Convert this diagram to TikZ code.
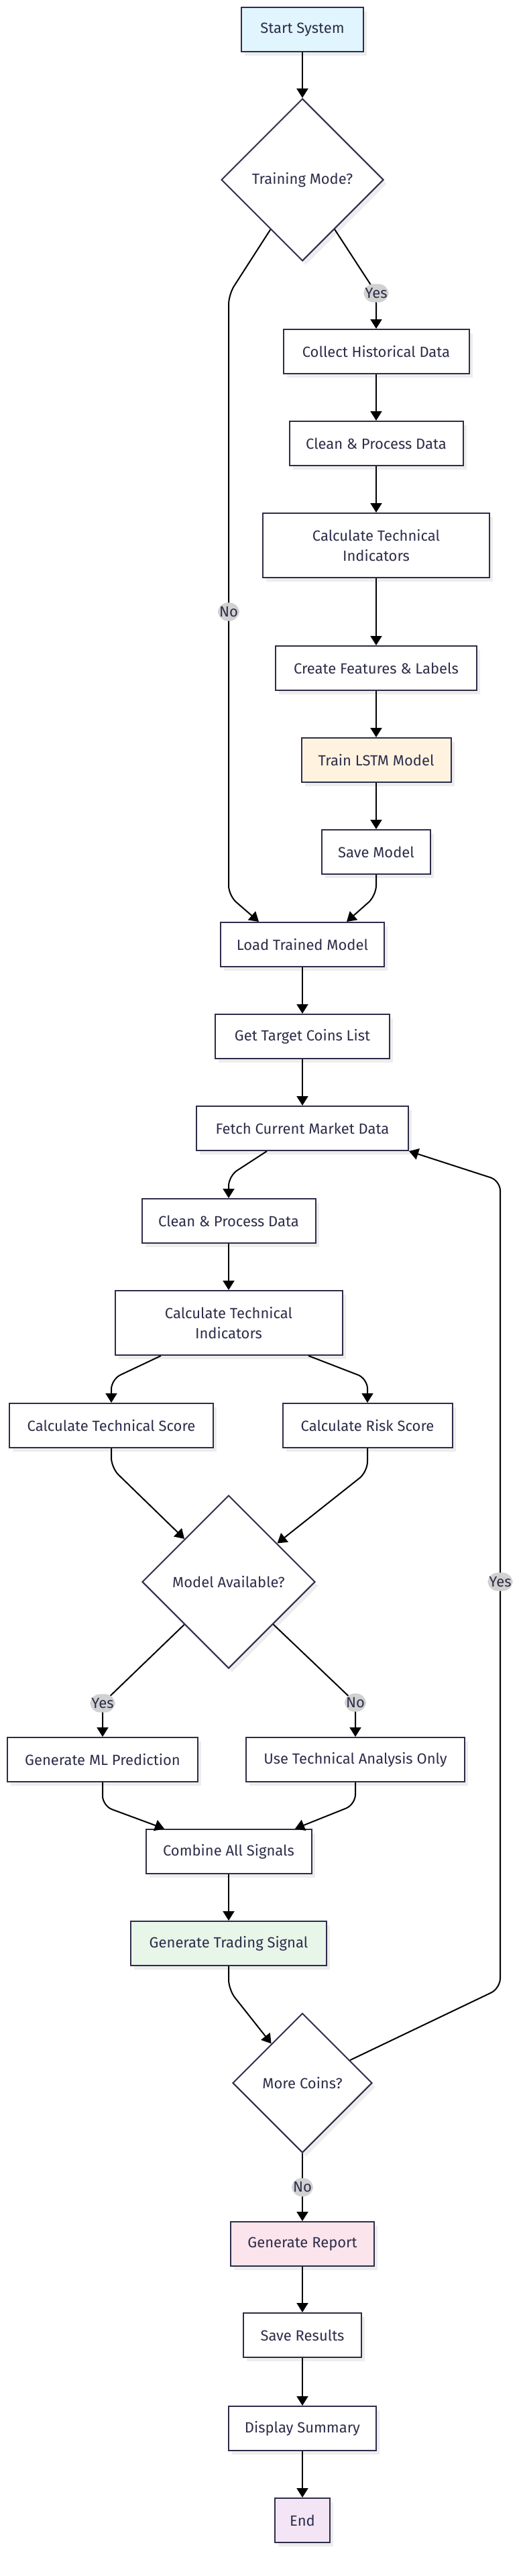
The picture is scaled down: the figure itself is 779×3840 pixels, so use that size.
\documentclass[tikz,border=0pt]{standalone}
\usepackage{fontspec}
\setmainfont{Fira Sans}
\usetikzlibrary{shapes.geometric,arrows.meta,shadows}

\definecolor{ink}{HTML}{2D2D4A}
\definecolor{startfill}{HTML}{E1F5FE}
\definecolor{trainfill}{HTML}{FFF3E0}
\definecolor{signalfill}{HTML}{E8F5E9}
\definecolor{reportfill}{HTML}{FCE4EC}
\definecolor{endfill}{HTML}{F3E5F5}

\begin{document}
\begin{tikzpicture}[x=1pt,y=-1pt,
  base/.style={draw=ink,line width=2pt,fill=white,text=ink,inner sep=0pt,
    font=\fontsize{22}{30}\selectfont,
    drop shadow={shadow xshift=5pt,shadow yshift=-6pt,fill=black!7,opacity=1}},
  proc/.style={base,rectangle,minimum height=66pt,align=center},
  proc2/.style={base,rectangle,minimum height=96pt,align=center},
  decide/.style={base,diamond,aspect=1},
  flow/.style={draw=black,line width=2pt,-{Triangle[width=17pt,length=14pt]},rounded corners=15pt},
  lbl/.style={rectangle,fill=black!18,text=ink,inner xsep=2pt,inner ysep=6pt,font=\fontsize{22}{24}\selectfont}]

\fill[white] (0,0) rectangle (779,3840);

% training branch
\node[proc,fill=startfill,minimum width=182pt] (start) at (451,44) {Start System};
\node[decide,minimum size=242pt] (mode1) at (451,268) {Training Mode?};
\node[proc,minimum width=277pt] (collect) at (561,524) {Collect Historical Data};
\node[proc,minimum width=259pt] (clean1) at (561,661) {Clean \& Process Data};
\node[proc2,minimum width=338pt] (calc1) at (561,813) {Calculate Technical\\Indicators};
\node[proc,minimum width=300pt] (feat) at (561,996) {Create Features \& Labels};
\node[proc,fill=trainfill,minimum width=223pt] (train) at (561,1133) {Train LSTM Model};
\node[proc,minimum width=162pt] (savem) at (561,1270) {Save Model};
\node[proc,minimum width=244pt] (load) at (451,1408) {Load Trained Model};

% analysis loop
\node[proc,minimum width=260pt] (coins) at (451,1545) {Get Target Coins List};
\node[proc,minimum width=316pt] (fetch) at (451,1682) {Fetch Current Market Data};
\node[proc,minimum width=259pt] (clean2) at (341,1820) {Clean \& Process Data};
\node[proc2,minimum width=339pt] (calc2) at (341,1972) {Calculate Technical\\Indicators};
\node[proc,minimum width=304pt] (tscore) at (166,2125) {Calculate Technical Score};
\node[proc,minimum width=253pt] (rscore) at (548,2125) {Calculate Risk Score};
\node[decide,minimum size=258pt] (model) at (341,2358) {Model Available?};
\node[proc,minimum width=284pt] (mlpred) at (153,2623) {Generate ML Prediction};
\node[proc,minimum width=326pt] (taonly) at (530,2623) {Use Technical Analysis Only};
\node[proc,minimum width=247pt] (combine) at (341,2760) {Combine All Signals};
\node[proc,fill=signalfill,minimum width=292pt] (signal) at (341,2897) {Generate Trading Signal};
\node[decide,minimum size=208pt] (more) at (451,3105) {More Coins?};

% output
\node[proc,fill=reportfill,minimum width=214pt] (report) at (451,3345) {Generate Report};
\node[proc,minimum width=176pt] (saveres) at (451,3481) {Save Results};
\node[proc,minimum width=220pt] (display) at (451,3620) {Display Summary};
\node[proc,fill=endfill,minimum width=82pt] (endn) at (451,3757) {End};

\draw[flow] (start) -- (mode1);
\draw[flow] (mode1) -- (561,437) node[lbl] {Yes} -- (collect);
\draw[flow] (mode1) -- (341,439) -- (341,912) node[lbl] {No} -- (341,1335) -- ([xshift=-65pt]load.north);
\draw[flow] (collect) -- (clean1);
\draw[flow] (clean1) -- (calc1);
\draw[flow] (calc1) -- (feat);
\draw[flow] (feat) -- (train);
\draw[flow] (train) -- (savem);
\draw[flow] (savem) -- (561,1335) -- ([xshift=66pt]load.north);
\draw[flow] (load) -- (coins);
\draw[flow] (coins) -- (fetch);
\draw[flow] ([xshift=-53pt]fetch.south) -- (341,1753) -- (clean2);
\draw[flow] (clean2) -- (calc2);
\draw[flow] ([xshift=-101pt]calc2.south) -- (166,2056) -- (tscore);
\draw[flow] ([xshift=119pt]calc2.south) -- (548,2055) -- (rscore);
\draw[flow] (tscore) -- (166,2188) -- (model);
\draw[flow] (rscore) -- (548,2194) -- (model);
\draw[flow] (model) -- (153,2539) node[lbl] {Yes} -- (mlpred);
\draw[flow] (model) -- (530,2538) node[lbl] {No} -- (taonly);
\draw[flow] (mlpred) -- (153,2692) -- ([xshift=-96pt]combine.north);
\draw[flow] (taonly) -- (530,2690) -- ([xshift=99pt]combine.north);
\draw[flow] (combine) -- (signal);
\draw[flow] (signal) -- (341,2966) -- (more);
\draw[flow] (more) -- (746,2964) -- (746,2358) node[lbl] {Yes} -- (746,1760) -- (fetch.south east);
\draw[flow] (more) -- node[lbl] {No} (report);
\draw[flow] (report) -- (saveres);
\draw[flow] (saveres) -- (display);
\draw[flow] (display) -- (endn);
\end{tikzpicture}
\end{document}
